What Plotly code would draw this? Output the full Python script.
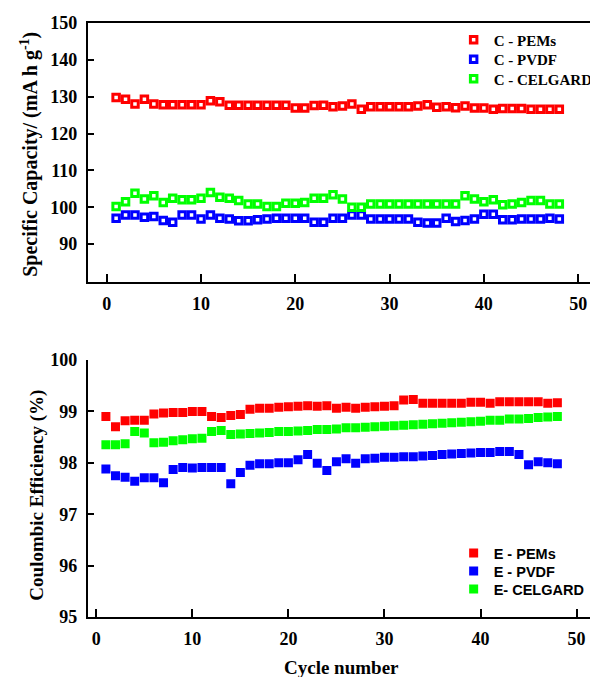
import plotly.graph_objects as go

# ---------------- data ----------------
cycles = list(range(1, 49))

cap_pems = [129.8, 129.3, 128.0, 129.3, 128.0, 127.8, 127.8, 127.8, 127.8, 127.8,
            128.9, 128.6, 127.7, 127.7, 127.7, 127.7, 127.7, 127.7, 127.7, 126.9,
            126.9, 127.6, 127.7, 127.3, 127.5, 128.0, 126.6, 127.3, 127.3, 127.3,
            127.3, 127.3, 127.5, 127.8, 127.1, 127.3, 127.0, 127.5, 126.9, 126.9,
            126.6, 126.8, 126.8, 126.8, 126.6, 126.6, 126.6, 126.6]
cap_pvdf = [97.0, 97.9, 97.9, 97.3, 97.5, 96.4, 95.9, 97.9, 97.9, 96.8,
            97.9, 97.0, 96.8, 96.3, 96.3, 96.6, 96.8, 97.0, 97.0, 97.0,
            97.0, 95.9, 95.9, 97.0, 97.0, 97.9, 97.9, 96.8, 96.8, 96.8,
            96.8, 96.8, 95.9, 95.7, 95.7, 97.0, 96.1, 96.4, 96.8, 98.1,
            98.1, 96.6, 96.6, 96.8, 96.8, 96.8, 97.0, 96.8]
cap_celgard = [100.2, 101.5, 103.8, 102.2, 103.1, 101.3, 102.4, 102.0, 102.0, 102.4,
               104.0, 102.7, 102.4, 101.8, 100.9, 100.9, 100.2, 100.2, 101.1, 101.1,
               101.3, 102.4, 102.4, 103.4, 102.2, 100.0, 100.0, 100.9, 100.9, 100.9,
               100.9, 100.9, 100.9, 100.9, 100.9, 100.9, 100.9, 103.1, 102.2, 101.5,
               102.0, 100.7, 100.9, 101.3, 101.8, 101.8, 100.9, 100.9]

ce_pems = [98.90, 98.70, 98.82, 98.83, 98.83, 98.95, 98.97, 98.98, 98.98, 99.00,
           99.00, 98.90, 98.88, 98.92, 98.94, 99.04, 99.06, 99.06, 99.08, 99.09,
           99.10, 99.11, 99.10, 99.11, 99.06, 99.08, 99.06, 99.08, 99.09, 99.10,
           99.11, 99.22, 99.23, 99.16, 99.16, 99.16, 99.16, 99.16, 99.18, 99.18,
           99.16, 99.19, 99.19, 99.19, 99.19, 99.19, 99.16, 99.17]
ce_pvdf = [97.88, 97.75, 97.72, 97.64, 97.71, 97.71, 97.61, 97.87, 97.91, 97.90,
           97.91, 97.91, 97.91, 97.59, 97.81, 97.95, 97.98, 97.98, 98.00, 98.00,
           98.06, 98.16, 97.99, 97.85, 98.02, 98.08, 97.99, 98.08, 98.09, 98.11,
           98.11, 98.12, 98.12, 98.13, 98.14, 98.16, 98.17, 98.18, 98.19, 98.20,
           98.20, 98.22, 98.22, 98.16, 97.96, 98.02, 98.00, 97.98]
ce_celgard = [98.35, 98.35, 98.37, 98.61, 98.58, 98.39, 98.40, 98.43, 98.45, 98.47,
              98.48, 98.61, 98.63, 98.55, 98.56, 98.57, 98.58, 98.59, 98.61, 98.61,
              98.62, 98.63, 98.65, 98.65, 98.66, 98.68, 98.68, 98.69, 98.70, 98.71,
              98.72, 98.73, 98.74, 98.75, 98.76, 98.77, 98.78, 98.79, 98.80, 98.81,
              98.83, 98.83, 98.85, 98.85, 98.86, 98.88, 98.89, 98.90]

x_ticks = [0, 10, 20, 30, 40, 50]
cap_ticks = [90, 100, 110, 120, 130, 140, 150]
ce_ticks = [95, 96, 97, 98, 99, 100]

names_top = ["C - PEMs", "C - PVDF", "C - CELGARD"]
names_bot = ["E - PEMs", "E - PVDF", "E- CELGARD"]
colors = ["#FF0000", "#0000FF", "#00FF00"]

# ---------------- layout helpers ----------------
# the page body has an 8px default margin, so the figure starts at (8, 8)
OFF = 8
W, H = 598 - OFF, 677 - OFF
def px(x):
    return (x - OFF) / W
def py(y):
    return 1 - (y - OFF) / H

SERIF = "Liberation Serif"
SANS = "Liberation Sans"

fig = go.Figure()

for i, (name, vals, c) in enumerate(zip(names_top, [cap_pems, cap_pvdf, cap_celgard], colors)):
    fig.add_trace(go.Scatter(
        x=cycles, y=vals, mode="markers", name=name, showlegend=True,
        xaxis="x", yaxis="y", legend="legend" if i == 0 else f"legend{i + 1}",
        marker=dict(symbol="square-open", size=6.5, color=c,
                    line=dict(width=3, color=c)),
    ))

for i, (name, vals, c) in enumerate(zip(names_bot, [ce_pems, ce_pvdf, ce_celgard], colors)):
    fig.add_trace(go.Scatter(
        x=cycles, y=vals, mode="markers", name=name, showlegend=True,
        xaxis="x2", yaxis="y2", legend=f"legend{i + 4}",
        marker=dict(symbol="square", size=9, color=c, line=dict(width=0)),
    ))

tickfont = dict(family=SERIF, size=18, color="black", weight="bold")

common_x = dict(showgrid=False, zeroline=False, showline=True, linecolor="black",
                linewidth=2, ticks="inside", ticklen=8, tickwidth=1.5,
                tickcolor="black", tickvals=x_ticks, tickfont=tickfont,
                ticklabelstandoff=4, automargin=False)
common_y = dict(showgrid=False, zeroline=False, showline=True, linecolor="black",
                linewidth=1.5, ticks="inside", ticklen=7, tickwidth=1.5,
                tickcolor="black", tickfont=tickfont, ticklabelstandoff=5,
                automargin=False)

def leg(xc, yc, family, size):
    return dict(x=px(xc - 19), y=py(yc), xanchor="left", yanchor="middle",
                bgcolor="rgba(0,0,0,0)", borderwidth=0,
                font=dict(family=family, size=size, color="black", weight="bold"))

fig.update_layout(
    width=W, height=H,
    showlegend=True,
    margin=dict(l=0, r=0, t=0, b=0),
    paper_bgcolor="white", plot_bgcolor="white",
    xaxis=dict(domain=[px(88.5), 1], range=[-2.03, 51.36], anchor="y",
               mirror=True, **common_x),
    yaxis=dict(domain=[py(282), py(23)], range=[79.7, 150], anchor="x",
               tickvals=cap_ticks, **common_y),
    xaxis2=dict(domain=[px(88.5), 1], range=[-0.91, 51.5], anchor="y2",
                **common_x),
    yaxis2=dict(domain=[py(617), py(360)], range=[95, 100], anchor="x2",
                tickvals=ce_ticks, **common_y),
    legend=leg(478, 40, SERIF, 15),
    legend2=leg(478, 59.5, SERIF, 15),
    legend3=leg(478, 79, SERIF, 15),
    legend4=leg(478, 553, SANS, 14.5),
    legend5=leg(478, 571, SANS, 14.5),
    legend6=leg(478, 589, SANS, 14.5),
    annotations=[
        dict(text="Specific Capacity/ (mA h g<sup>-1</sup>)", textangle=-90,
             x=px(29), y=py(154), xref="paper", yref="paper",
             xanchor="center", yanchor="middle", showarrow=False,
             font=dict(family=SERIF, size=20, color="black", weight="bold")),
        dict(text="Coulombic Efficiency (%)", textangle=-90,
             x=px(37), y=py(495), xref="paper", yref="paper",
             xanchor="center", yanchor="middle", showarrow=False,
             font=dict(family=SERIF, size=19, color="black", weight="bold")),
        dict(text="Cycle number",
             x=px(345), y=py(667), xref="paper", yref="paper",
             xanchor="center", yanchor="middle", showarrow=False,
             font=dict(family=SERIF, size=19, color="black", weight="bold")),
    ],
)

fig.write_html("out.html")
